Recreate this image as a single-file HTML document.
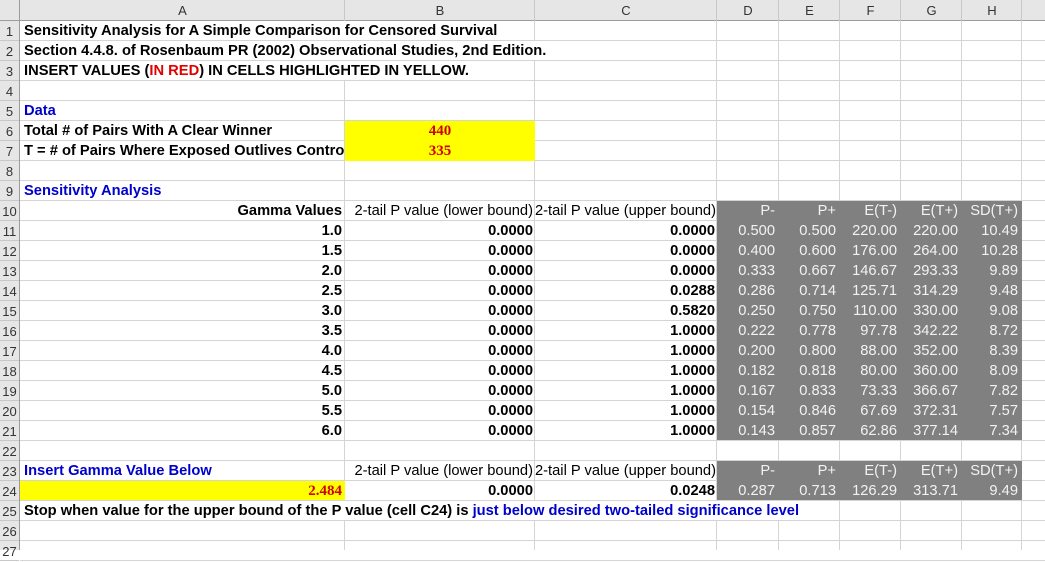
<!DOCTYPE html>
<html><head><meta charset="utf-8"><style>
body{margin:0;width:1045px;height:550px;overflow:hidden;background:#fff;font-family:"Liberation Sans",Arial,sans-serif;position:relative}
.a{position:absolute;box-sizing:border-box}
.t{position:absolute;font-size:14.7px;line-height:21px;white-space:nowrap;color:#000}
.ov{background:#fff;height:19px;padding-right:2px}
.b{font-weight:bold}
.blue{color:#0000cc}
.red{color:#e00000}
.w{color:#f2f2f2}
.rv{font-family:"Liberation Serif",serif;font-weight:bold;color:#d00000;font-size:15px}
</style></head><body>
<script>
const colX=[0,20,345,535,717,779,840,901,962,1022,1045];
const colNames=['A','B','C','D','E','F','G','H'];
const HDR=21, RH=20;
const gammas=['1.0','1.5','2.0','2.5','3.0','3.5','4.0','4.5','5.0','5.5','6.0'];
const lowerP=['0.0000','0.0000','0.0000','0.0000','0.0000','0.0000','0.0000','0.0000','0.0000','0.0000','0.0000'];
const upperP=['0.0000','0.0000','0.0000','0.0288','0.5820','1.0000','1.0000','1.0000','1.0000','1.0000','1.0000'];
const pMinus=['0.500','0.400','0.333','0.286','0.250','0.222','0.200','0.182','0.167','0.154','0.143'];
const pPlus=['0.500','0.600','0.667','0.714','0.750','0.778','0.800','0.818','0.833','0.846','0.857'];
const eTm=['220.00','176.00','146.67','125.71','110.00','97.78','88.00','80.00','73.33','67.69','62.86'];
const eTp=['220.00','264.00','293.33','314.29','330.00','342.22','352.00','360.00','366.67','372.31','377.14'];
const sdT=['10.49','10.28','9.89','9.48','9.08','8.72','8.39','8.09','7.82','7.57','7.34'];
const root=document.body;
function box(x,y,w,h,bg,name){const d=document.createElement('div');d.className='a';d.style.cssText=`left:${x}px;top:${y}px;width:${w}px;height:${h}px;background:${bg}`;


root.appendChild(d);return d;}
function rowY(r){return HDR+(r-1)*RH;}
box(0,0,1045,HDR,'#e6e6e6','column-header-bar');
box(0,0,20,550,'#e6e6e6','row-header-bar');
for(let r=1;r<=27;r++){box(20,rowY(r)+RH-1,1025,1,'#d4d4d4','gridline-row');}
for(let i=2;i<colX.length-1;i++){box(colX[i]-1,HDR,1,529,'#d4d4d4','gridline-col');}
box(0,HDR-1,1045,1,'#9c9c9c','header-border');
box(19,0,1,550,'#9c9c9c','rowheader-border');
for(let i=2;i<colX.length-1;i++){box(colX[i]-1,0,1,HDR,'#c8c8c8','header-sep');}
for(let r=1;r<=27;r++){box(0,rowY(r)+RH-1,19,1,'#c8c8c8','rowheader-sep');}
function text(x,y,w,align,str,cls,name,inter){const d=document.createElement('div');d.className='t '+(cls||'');
d.style.left=x+'px';d.style.top=y+'px';if(w!=null){d.style.width=w+'px';d.style.textAlign=align;}
d.innerHTML=str;


root.appendChild(d);return d;}
colNames.forEach((c,i)=>{const t=text(colX[i+1],0,colX[i+2]-colX[i+1],'center',c,'','column-header-'+c.toLowerCase(),true);t.style.fontSize='13px';t.style.color='#333';});
for(let r=1;r<=27;r++){const t=text(0,rowY(r),19,'center',String(r),'','row-header-'+r,true);t.style.fontSize='13px';t.style.color='#333';}
box(345,rowY(6),190,40,'#ffff00','input-cells-b6-b7');
box(20,rowY(24),325,19,'#ffff00','gamma-input-cell');
box(717,rowY(10),305,RH*12-1,'#808080','gray-table');
box(717,rowY(23),305,RH*2-1,'#808080','gray-table-2');
const L=24;
text(L,rowY(1),null,null,'Sensitivity Analysis for A Simple Comparison for Censored Survival','b ov','title');
text(L,rowY(2),null,null,'Section 4.4.8. of Rosenbaum PR (2002) Observational Studies, 2nd Edition.','b ov','subtitle');
text(L,rowY(3),null,null,'INSERT VALUES (<span class="red">IN RED</span>) IN CELLS HIGHLIGHTED IN YELLOW.','b ov','instructions');
text(L,rowY(5),null,null,'Data','b blue','data-heading');
text(L,rowY(6),null,null,'Total # of Pairs With A Clear Winner','b','label-total-pairs');
const t7=text(L,rowY(7),320,'left','T = # of Pairs Where Exposed Outlives Control','b','label-t');t7.style.overflow='hidden';t7.style.height='19px';
text(345,rowY(6),190,'center','440','rv','input-total-pairs',true);
text(345,rowY(7),190,'center','335','rv','input-t',true);
text(L,rowY(9),null,null,'Sensitivity Analysis','b blue','sensitivity-heading');
text(20,rowY(10),322,'right','Gamma Values','b','gamma-header');
text(345,rowY(10),188,'right','2-tail P value (lower bound)','','lower-p-header');
text(535,rowY(10),180,'right','2-tail P value (upper bound)','','upper-p-header');
const hdrs=['P-','P+','E(T-)','E(T+)','SD(T+)'];
function grayRow(r,vals,nm){vals.forEach((v,j)=>{text(colX[j+4],rowY(r),colX[j+5]-colX[j+4]-4,'right',v,'w',nm+'-'+j);});}
grayRow(10,hdrs,'gray-header');
gammas.forEach((g,i)=>{const r=11+i;
text(20,rowY(r),322,'right',g,'b','gamma-'+g);
text(345,rowY(r),188,'right',lowerP[i],'b','lower-p');
text(535,rowY(r),180,'right',upperP[i],'b','upper-p');
grayRow(r,[pMinus[i],pPlus[i],eTm[i],eTp[i],sdT[i]],'gray-row-'+r);});
text(L,rowY(23),null,null,'Insert Gamma Value Below','b blue','insert-gamma-label');
text(345,rowY(23),188,'right','2-tail P value (lower bound)','','lower-p-header-2');
text(535,rowY(23),180,'right','2-tail P value (upper bound)','','upper-p-header-2');
grayRow(23,hdrs,'gray-header-2');
text(20,rowY(24),322,'right','2.484','rv','gamma-input',true);
text(345,rowY(24),188,'right','0.0000','b','lower-p-result');
text(535,rowY(24),180,'right','0.0248','b','upper-p-result');
grayRow(24,['0.287','0.713','126.29','313.71','9.49'],'gray-result');
text(L,rowY(25),null,null,'Stop when value for the upper bound of the P value (cell C24) is <span class="blue">just below desired two-tailed significance level</span>','b ov','stop-note');
</script>
</body></html>
